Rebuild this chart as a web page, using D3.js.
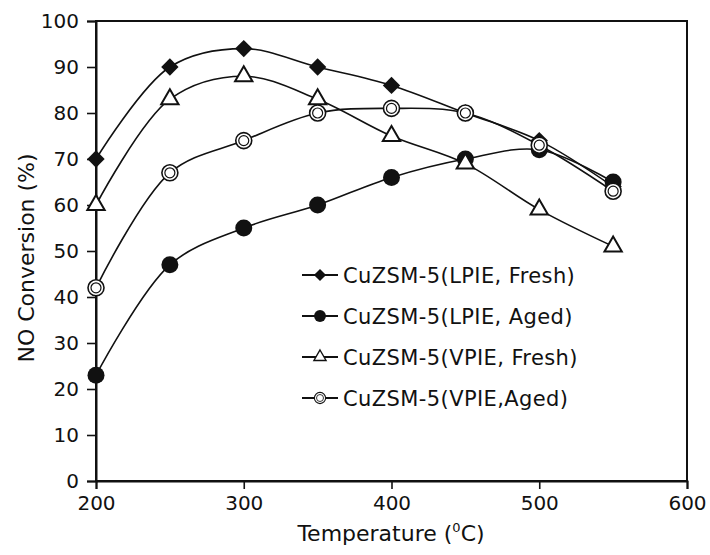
<!DOCTYPE html>
<html>
<head>
<meta charset="utf-8">
<script src="https://cdn.jsdelivr.net/npm/d3@7"></script>
<style>
  body { margin: 0; background: #fff; }
  text { font-family: "DejaVu Sans", Verdana, sans-serif; fill: #111; }
</style>
</head>
<body>
<script>
// temperatures (C)
var temps = [200, 250, 300, 350, 400, 450, 500, 550];
// NO conversion (%) per sample
var lpieFresh = [70, 90, 94, 90, 86, 80, 74, 64];
var lpieAged = [23, 47, 55, 60, 66, 70, 72, 65];
var vpieFresh = [60, 83, 88, 83, 75, 69, 59, 51];
var vpieAged = [42, 67, 74, 80, 81, 80, 73, 63];
var seriesNames = ["CuZSM-5(LPIE, Fresh)", "CuZSM-5(LPIE, Aged)", "CuZSM-5(VPIE, Fresh)", "CuZSM-5(VPIE,Aged)"];
var xTicks = [200, 300, 400, 500, 600];
var yTicks = [0, 10, 20, 30, 40, 50, 60, 70, 80, 90, 100];

var W = 710, H = 555;
var margin = { top: 21, right: 23, bottom: 74, left: 96 };
var width = W - margin.left - margin.right;
var height = H - margin.top - margin.bottom;

var svg = d3.select("body").append("svg")
  .attr("width", W).attr("height", H);
var g = svg.append("g")
  .attr("transform", "translate(" + margin.left + "," + margin.top + ")");

var x = d3.scaleLinear().domain([200, 600]).range([0, width]);
var y = d3.scaleLinear().domain([0, 100]).range([height, 0]);

// box
g.append("rect")
  .attr("width", width).attr("height", height)
  .attr("fill", "none").attr("stroke", "#111").attr("stroke-width", 2);

var yAxis = g.append("g")
  .call(d3.axisLeft(y).tickValues(yTicks).tickSize(9).tickPadding(8));
var xAxis = g.append("g")
  .attr("transform", "translate(0," + height + ")")
  .call(d3.axisBottom(x).tickValues(xTicks).tickSize(8).tickPadding(7));
[xAxis, yAxis].forEach(function(a) {
  a.select(".domain").attr("stroke", "#111").attr("stroke-width", 2);
  a.selectAll(".tick line").attr("stroke", "#111").attr("stroke-width", 1.6);
  a.selectAll(".tick text").style("font-size", "20px").attr("fill", "#111");
});

// axis titles
svg.append("text")
  .attr("transform", "translate(34,258) rotate(-90)")
  .attr("text-anchor", "middle")
  .style("font-size", "22px")
  .text("NO Conversion (%)");

var xt = svg.append("text")
  .attr("x", 391)
  .attr("y", 541)
  .attr("text-anchor", "middle")
  .style("font-size", "22px");
xt.append("tspan").text("Temperature (");
xt.append("tspan").attr("dy", -9).style("font-size", "13px").text("0");
xt.append("tspan").attr("dy", 9).text("C)");

var data = [
  { name: seriesNames[0], vals: lpieFresh, sym: "diamond" },
  { name: seriesNames[1], vals: lpieAged, sym: "fcircle" },
  { name: seriesNames[2], vals: vpieFresh, sym: "triangle" },
  { name: seriesNames[3], vals: vpieAged, sym: "ocircle" }
];

var line = d3.line()
  .x(function(d, i) { return x(temps[i]); })
  .y(function(d) { return y(d); })
  .curve(d3.curveCatmullRom.alpha(0.5));

function marker(sel, sym) {
  if (sym == "diamond") {
    sel.append("path").attr("d", d3.symbol(d3.symbolSquare, 150)())
      .attr("fill", "#111").attr("transform", "rotate(45)");
  } else if (sym == "fcircle") {
    sel.append("circle").attr("r", 8.5).attr("fill", "#111");
  } else if (sym == "triangle") {
    sel.append("path").attr("d", d3.symbol(d3.symbolTriangle, 130)())
      .attr("fill", "#fff").attr("stroke", "#111").attr("stroke-width", 2);
  } else {
    sel.append("circle").attr("r", 8).attr("fill", "#fff")
      .attr("stroke", "#111").attr("stroke-width", 1.6);
    sel.append("circle").attr("r", 5).attr("fill", "none")
      .attr("stroke", "#111").attr("stroke-width", 1.2);
  }
}

data.forEach(function(s) {
  g.append("path")
    .datum(s.vals)
    .attr("d", line)
    .attr("fill", "none")
    .attr("stroke", "#111")
    .attr("stroke-width", 1.6);
});
data.forEach(function(s) {
  g.append("g").selectAll("g")
    .data(s.vals)
    .enter().append("g")
    .attr("transform", function(d, i) { return "translate(" + x(temps[i]) + "," + y(d) + ")"; })
    .each(function() { marker(d3.select(this), s.sym); });
});

// legend
var leg = svg.append("g").attr("transform", "translate(302,275)");
data.forEach(function(s, i) {
  var row = leg.append("g").attr("transform", "translate(0," + (i * 41) + ")");
  row.append("line").attr("x1", 0).attr("x2", 36)
    .attr("stroke", "#111").attr("stroke-width", 1.8);
  var m = row.append("g").attr("transform", "translate(18,0) scale(0.7)");
  marker(m, s.sym);
  row.append("text").attr("x", 41).attr("y", 7.5)
    .style("font-size", "21px").style("letter-spacing", "0.4px").text(s.name);
});
</script>
</body>
</html>
